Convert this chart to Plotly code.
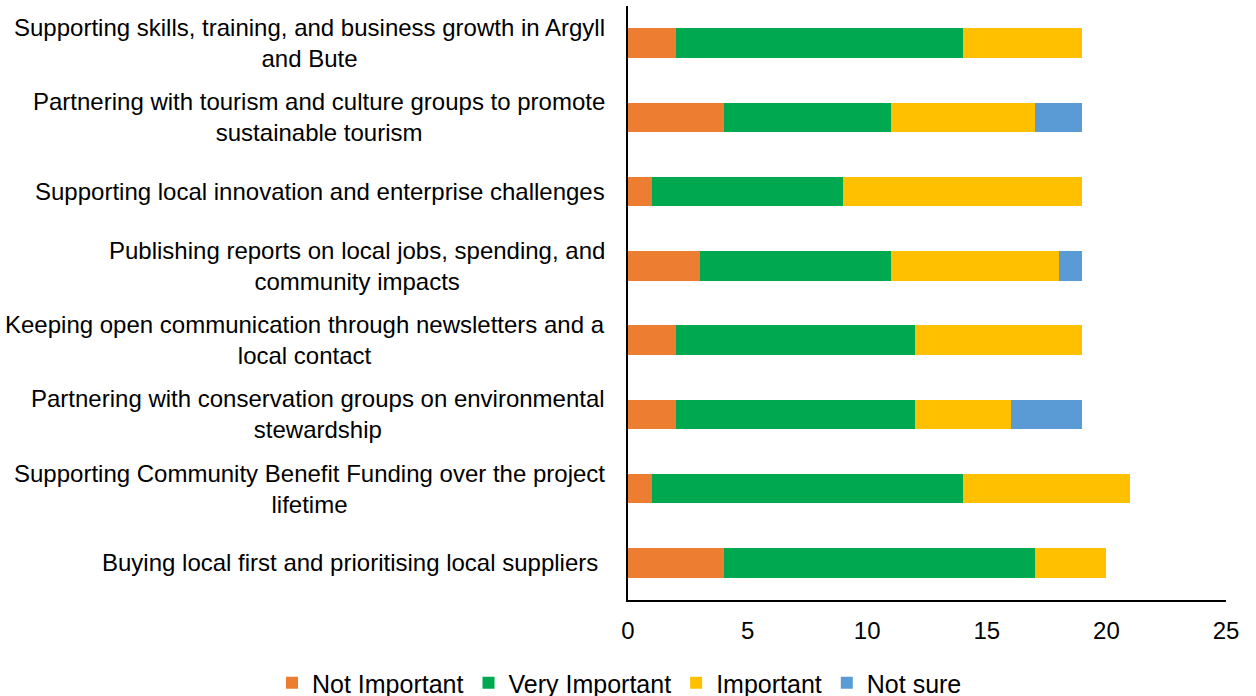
import plotly.graph_objects as go

categories = [
    "Supporting skills, training, and business growth in Argyll<br>and Bute",
    "Partnering with tourism and culture groups to promote<br>sustainable tourism",
    "Supporting local innovation and enterprise challenges",
    "Publishing reports on local jobs, spending, and<br>community impacts",
    "Keeping open communication through newsletters and a<br>local contact",
    "Partnering with conservation groups on environmental<br>stewardship",
    "Supporting Community Benefit Funding over the project<br>lifetime",
    "Buying local first and prioritising local suppliers ",
]
not_important = [2, 4, 1, 3, 2, 2, 1, 4]
very_important = [12, 7, 8, 8, 10, 10, 13, 13]
important = [5, 6, 10, 7, 7, 4, 7, 3]
not_sure = [0, 2, 0, 1, 0, 3, 0, 0]
x_ticks = [0, 5, 10, 15, 20, 25]

series = [
    ("Not Important", not_important, "#ED7D31"),
    ("Very Important", very_important, "#00A94F"),
    ("Important", important, "#FFC000"),
    ("Not sure", not_sure, "#5B9BD5"),
]

ids = list(range(len(categories)))

fig = go.Figure()
for name, vals, col in series:
    fig.add_trace(go.Bar(
        y=ids, x=vals, name=name, orientation="h",
        marker=dict(color=col, line=dict(width=0)),
        width=0.4,
    ))

W, H = 1256, 696
ml, mr, mt, mb = 628, 30, 6, 96
pw = W - ml - mr
ph = H - mt - mb

for i, c in enumerate(categories):
    fig.add_annotation(
        x=(607 - ml) / pw, xref="paper", y=i, yref="y",
        text=c, showarrow=False, xanchor="right", yanchor="middle",
        align="center", font=dict(size=24, color="black"),
    )

fig.update_layout(
    width=W, height=H,
    margin=dict(l=ml, r=mr, t=mt, b=mb, autoexpand=False),
    barmode="stack",
    plot_bgcolor="white", paper_bgcolor="white",
    font=dict(family="Liberation Sans, Arial, sans-serif", size=24, color="black"),
    legend=dict(
        orientation="h", xref="paper", yref="paper",
        x=(272 - ml) / pw, xanchor="left",
        y=-(683 - (H - mb)) / ph, yanchor="middle",
        font=dict(size=25), traceorder="normal",
        bgcolor="rgba(0,0,0,0)",
    ),
    xaxis=dict(
        range=[0, 25], tickvals=x_ticks,
        showgrid=False, zeroline=False, showline=True,
        linecolor="black", linewidth=2, ticks="",
        tickfont=dict(size=24), fixedrange=True,
        ticklabelstandoff=8,
    ),
    yaxis=dict(
        range=[7.5, -0.5], showticklabels=False, showgrid=False,
        zeroline=False, showline=True, linecolor="black", linewidth=2,
        ticks="",
    ),
)

fig.write_html("out.html", config={"displayModeBar": False},
               post_script="document.body.style.margin='0';")
